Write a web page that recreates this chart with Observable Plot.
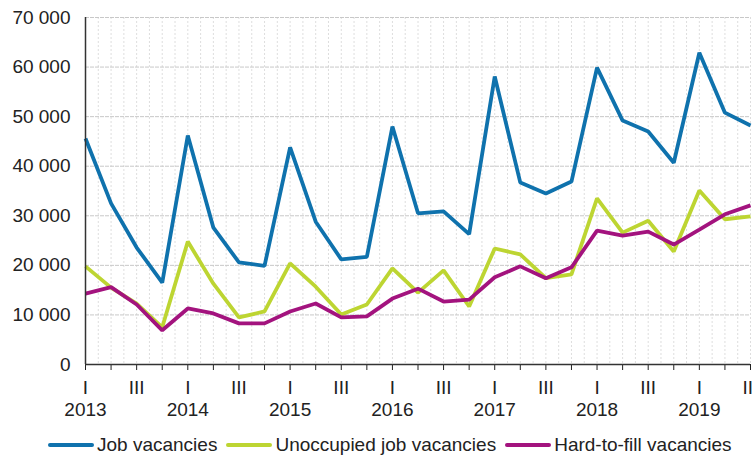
<!DOCTYPE html>
<html>
<head>
<meta charset="utf-8">
<script src="https://cdn.jsdelivr.net/npm/d3@7"></script>
<script src="https://cdn.jsdelivr.net/npm/@observablehq/plot@0.6"></script>
<style>
  html, body { margin: 0; padding: 0; background: #fff; }
  body { width: 752px; height: 465px; overflow: hidden; font-family: "Liberation Sans", Arial, sans-serif; }
  #legend { display: flex; align-items: center; padding-left: 48px; height: 40px; font-size: 19px; color: #222; margin-top: 4px; white-space: nowrap; width: 760px; }
  .item { display: flex; align-items: center; margin-right: 9px; flex-shrink: 0; white-space: nowrap; }
  .sw { width: 46px; height: 4px; border-radius: 2px; margin-right: 3px; flex-shrink: 0; }
</style>
</head>
<body>
<div id="chart"></div>
<div id="legend"></div>
<script>
const years = ["2013", "2014", "2015", "2016", "2017", "2018", "2019"];
const quarterLabels = ["I", "", "III", ""];
const seriesNames = ["Job vacancies", "Unoccupied job vacancies", "Hard-to-fill vacancies"];
const seriesColors = ["#0f72ad", "#bdd532", "#a3137e"];
const yTicks = [0, 10000, 20000, 30000, 40000, 50000, 60000, 70000];

// 2013 Q1 ... 2019 Q3
const jobVacancies = [45600, 32500, 23600, 16500, 46200, 27600, 20600, 19900,
  43800, 28800, 21200, 21700, 48000, 30500, 30900, 26300,
  58100, 36700, 34500, 36900, 59900, 49200, 47000, 40700,
  62900, 50800, 48200];
const unoccupied = [19800, 15500, 12300, 7500, 24800, 16300, 9500, 10700,
  20400, 15700, 10100, 12100, 19400, 14500, 19000, 11700,
  23400, 22200, 17400, 18200, 33500, 26600, 29000, 22800,
  35100, 29300, 29900];
const hardToFill = [14300, 15600, 12100, 6900, 11300, 10300, 8300, 8300,
  10700, 12300, 9500, 9700, 13300, 15300, 12700, 13100,
  17600, 19800, 17400, 19600, 27000, 26000, 26800, 24200,
  27200, 30300, 32100];

const seriesValues = [jobVacancies, unoccupied, hardToFill];
const data = seriesValues.flatMap((vals, s) => vals.map((v, i) => ({i, v, s: seriesNames[s]})));
const n = jobVacancies.length;
const idx = d3.range(n);
const halfSteps = d3.range(0, (n - 1) * 2 + 1).map(k => k / 2);
const yearIdx = years.map((y, k) => k * 4);

const chart = Plot.plot({
  width: 752,
  height: 421,
  marginLeft: 85,
  marginRight: 2,
  marginTop: 17,
  marginBottom: 57,
  style: {fontFamily: "'Liberation Sans', Arial, sans-serif", fontSize: "19px", color: "#222", overflow: "visible"},
  x: {domain: [0, n - 1]},
  y: {domain: [0, 70000]},
  color: {domain: seriesNames, range: seriesColors},
  marks: [
    Plot.ruleX(halfSteps, {stroke: "#dedede", strokeDasharray: "2,2", strokeWidth: 1}),
    Plot.ruleY(yTicks.slice(1), {stroke: "#c8c8c8", strokeDasharray: "4,1", strokeWidth: 1}),
    Plot.axisY({ticks: yTicks, tickSize: 0, tickPadding: 15, tickFormat: d => d3.format(",")(d).replace(/,/g, " "), label: null}),
    Plot.axisX({ticks: idx, tickSize: 6, tickPadding: 10, tickFormat: i => quarterLabels[i % 4], label: null, stroke: "#222"}),
    Plot.axisX({ticks: yearIdx, tickSize: 0, tickPadding: 38, tickFormat: i => years[i / 4], label: null}),
    Plot.line(data, {x: "i", y: "v", z: "s", stroke: "s", strokeWidth: 3.8, strokeLinejoin: "miter", strokeLinecap: "butt"}),
    Plot.ruleY([0], {stroke: "#333", strokeWidth: 1.5}),
    Plot.ruleX([0], {stroke: "#333", strokeWidth: 1.5})
  ]
});
document.getElementById("chart").appendChild(chart);

const legend = document.getElementById("legend");
seriesNames.forEach((name, k) => {
  const item = document.createElement("div");
  item.className = "item";
  const sw = document.createElement("div");
  sw.className = "sw";
  sw.style.background = seriesColors[k];
  const t = document.createElement("span");
  t.textContent = name;
  item.appendChild(sw);
  item.appendChild(t);
  legend.appendChild(item);
});
</script>
</body>
</html>
